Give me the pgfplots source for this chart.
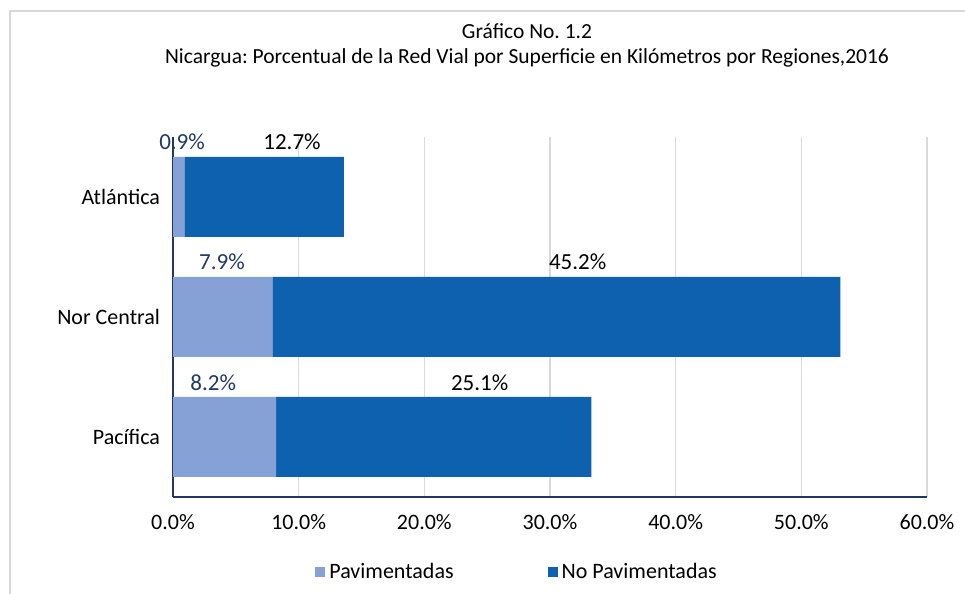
\documentclass[border=0pt]{standalone}
\usepackage{pgfplots}
\pgfplotsset{compat=1.18}
\usepackage{fontspec}
\setmainfont{Carlito}
\frenchspacing
\definecolor{pav}{RGB}{134,161,214}
\definecolor{nopav}{RGB}{13,97,174}
\definecolor{navy}{RGB}{31,56,100}
\definecolor{gridgray}{RGB}{217,217,217}
\definecolor{framegray}{RGB}{217,217,217}
\begin{document}
\begin{tikzpicture}
\useasboundingbox (0pt,0pt) rectangle (482.5pt,297pt);
\draw[framegray, line width=0.8pt] (5pt,0pt) -- (5pt,291.5pt) -- (482.5pt,291.5pt);
\node[font=\fontsize{10.75}{12}\selectfont, inner sep=0pt] at (263.5pt,281.5pt) {Gráfico No. 1.2};
\node[font=\fontsize{10.75}{12}\selectfont, inner sep=0pt] at (263.5pt,268pt) {Nicargua: Porcentual de la Red Vial por Superficie en Kilómetros por Regiones,2016};
\begin{axis}[
  at={(86.5pt,48.5pt)}, anchor=south west,
  scale only axis, width=377pt, height=180pt,
  xbar stacked, bar width=40pt,
  xmin=0, xmax=60, ymin=-0.5, ymax=2.5,
  xtick={0,10,20,30,40,50,60},
  xticklabels={0.0\%,10.0\%,20.0\%,30.0\%,40.0\%,50.0\%,60.0\%},
  ytick={0,1,2},
  yticklabels={Pacífica,Nor Central,Atlántica},
  axis x line*=bottom, axis y line*=left,
  axis line style={-, navy, line width=0.8pt},
  xmajorgrids, major grid style={gridgray, line width=0.8pt},
  tick style={draw=none},
  ticklabel style={font=\fontsize{11}{13}\selectfont},
  xticklabel style={yshift=-5pt},
  yticklabel style={xshift=-3pt},
  legend style={at={(0.4576,-0.208)}, anchor=center, draw=none, fill=none,
    legend columns=2, font=\fontsize{11}{13}\selectfont,
    /tikz/every even column/.append style={column sep=45pt}},
  legend image code/.code={\fill[#1] (0pt,-2.5pt) rectangle (5pt,2.5pt);},
  clip=false,
]
\addplot[fill=pav, draw=none] coordinates {(8.2,0) (7.9,1) (0.9,2)};
\addplot[fill=nopav, draw=none] coordinates {(25.1,0) (45.2,1) (12.7,2)};
\legend{Pavimentadas, No Pavimentadas}
\node[font=\fontsize{11.5}{13}\selectfont, text=navy] at (axis cs:0.72,2.46) {0.9\%};
\node[font=\fontsize{11.5}{13}\selectfont] at (axis cs:9.47,2.46) {12.7\%};
\node[font=\fontsize{11.5}{13}\selectfont, text=navy] at (axis cs:3.9,1.46) {7.9\%};
\node[font=\fontsize{11.5}{13}\selectfont] at (axis cs:32.2,1.46) {45.2\%};
\node[font=\fontsize{11.5}{13}\selectfont, text=navy] at (axis cs:3.2,0.45) {8.2\%};
\node[font=\fontsize{11.5}{13}\selectfont] at (axis cs:24.4,0.45) {25.1\%};
\end{axis}
\end{tikzpicture}
\end{document}
